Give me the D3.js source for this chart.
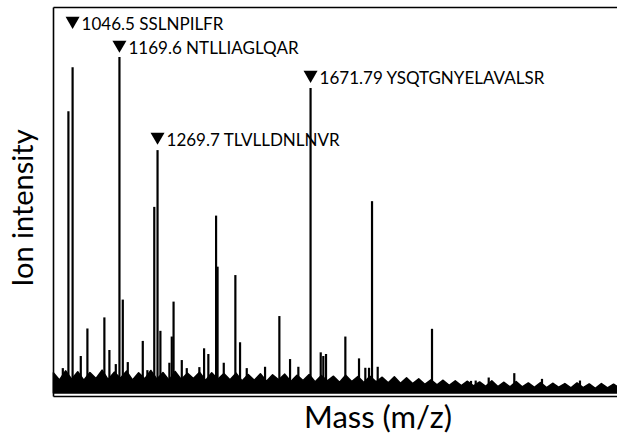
<!DOCTYPE html>
<html>
<head>
<meta charset="utf-8">
<script src="https://cdn.jsdelivr.net/npm/d3@7"></script>
<style>
  body { margin: 0; background: #fff; }
  text { font-family: Lato, "Open Sans", sans-serif; fill: #000; }
</style>
</head>
<body>
<svg id="chart"></svg>
<script>
// peak positions (m/z) and relative intensities (% of tallest peak)
var peakMz = [1020.8, 1035.5, 1046.5, 1068.0, 1085.4, 1130.0, 1143.2, 1160.0, 1169.6, 1178.4,
              1191.5, 1230.9, 1243.0, 1261.1, 1269.7, 1277.2, 1300.8, 1307.1, 1311.8, 1333.4,
              1346.5, 1379.6, 1392.0, 1403.2, 1423.5, 1427.4, 1443.7, 1474.2, 1486.5, 1504.1,
              1552.2, 1589.8, 1617.9, 1639.7, 1671.79, 1698.5, 1705.3, 1712.4, 1763.2, 1799.1,
              1815.7, 1825.4, 1833.3, 1848.2, 1990.9, 2093.4, 2105.7, 2139.9, 2207.1, 2279.9,
              2379.7, 2404.1]
var peakInt = [7.4, 83.9, 97.0, 11.0, 19.2, 22.5, 12.8, 8.6, 100, 27.8,
               9.2, 15.5, 6.8, 55.4, 72.3, 18.5, 9.0, 16.8, 27.2, 9.8,
               7.4, 7.7, 13.3, 11.6, 52.8, 37.6, 9.0, 35.1, 15.1, 7.4,
               7.8, 22.9, 10.1, 7.8, 90.8, 12.1, 11.0, 11.6, 16.8, 10.3,
               7.5, 7.5, 57.1, 7.8, 19.1, 3.6, 3.7, 4.6, 5.9, 4.2,
               3.7, 2.7]

// baseline noise level, one value every 16 m/z from 996
var noiseStart = 996, noiseStep = 16
var noise = [6.0, 3.9, 6.6, 4.1, 6.3, 3.8, 6.1, 4.3, 6.8, 4.0,
             6.2, 4.4, 6.5, 3.9, 6.0, 4.2, 6.7, 4.1, 6.1, 3.8,
             6.4, 4.0, 5.9, 4.3, 6.2, 3.7, 6.0, 4.1, 5.8, 3.9,
             5.9, 3.6, 5.5, 3.8, 5.7, 3.5, 5.4, 3.9, 5.6, 3.4,
             5.3, 3.7, 5.5, 3.3, 5.2, 3.6, 5.0, 3.2, 5.3, 3.4,
             4.9, 3.1, 5.0, 3.3, 4.7, 3.0, 4.8, 2.9, 4.5, 2.8,
             4.2, 2.6, 3.9, 2.4, 3.8, 2.3, 3.6, 2.2, 3.5, 2.1,
             3.3, 2.0, 3.6, 1.9, 3.2, 1.8, 3.4, 1.8, 3.0, 1.7,
             3.1, 1.6, 2.9, 1.7, 2.8, 1.5, 3.0, 1.6, 2.7, 1.4,
             2.8, 1.5, 2.6, 1.4]

// annotated peptides
var labelMz = [1046.5, 1169.6, 1269.7, 1671.79]
var labelText = ["1046.5 SSLNPILFR", "1169.6 NTLLIAGLQAR", "1269.7 TLVLLDNLNVR", "1671.79 YSQTGNYELAVALSR"]
var labelLevel = [108.4, 101.3, 73.9, 92.3]

var dimensions = {
    width: 617,
    height: 436,
    margin: { top: 7, bottom: 40, right: 0, left: 53 }
}

var svg = d3.select("#chart")
    .attr("width", dimensions.width)
    .attr("height", dimensions.height)

var xScale = d3.scaleLinear()
    .domain([995, 2477])
    .range([dimensions.margin.left, dimensions.width - dimensions.margin.right])

var yScale = d3.scaleLinear()
    .domain([-0.9, 114.9])
    .range([dimensions.height - dimensions.margin.bottom, dimensions.margin.top])

// noise band
var noiseData = noise.map((v, i) => [noiseStart + i * noiseStep, v])
var area = d3.area()
    .x(d => xScale(d[0]))
    .y0(yScale(0))
    .y1(d => yScale(d[1]))

svg.append("path")
    .datum(noiseData)
    .attr("d", area)
    .attr("fill", "#000")
    .attr("stroke", "#000")
    .attr("stroke-width", 1.5)
    .attr("stroke-linejoin", "round")

// peaks
var peaks = peakMz.map((m, i) => ({ mz: m, v: peakInt[i] }))
svg.selectAll("line.peak")
    .data(peaks)
    .enter()
    .append("line")
    .attr("class", "peak")
    .attr("x1", d => xScale(d.mz))
    .attr("x2", d => xScale(d.mz))
    .attr("y1", yScale(0))
    .attr("y2", d => yScale(d.v))
    .attr("stroke", "#000")
    .attr("stroke-width", 2.2)

// frame
var xAxisgen = d3.axisBottom(xScale).ticks(0).tickSizeOuter(0)
var xTopgen = d3.axisTop(xScale).ticks(0).tickSizeOuter(0)
var yAxisgen = d3.axisLeft(yScale).ticks(0).tickSizeOuter(0)

svg.append("g")
    .attr("transform", `translate(0,${dimensions.height - dimensions.margin.bottom})`)
    .call(xAxisgen)
svg.append("g")
    .attr("transform", `translate(0,${dimensions.margin.top})`)
    .call(xTopgen)
svg.append("g")
    .attr("transform", `translate(${dimensions.margin.left},0)`)
    .call(yAxisgen)
svg.selectAll(".domain").attr("stroke", "#000").attr("stroke-width", 1.6)

// annotations
var labels = labelMz.map((m, i) => ({ mz: m, text: labelText[i], level: labelLevel[i] }))
var tri = d3.symbol().type(d3.symbolTriangle).size(85)
var lab = svg.selectAll("g.lab")
    .data(labels)
    .enter()
    .append("g")
    .attr("class", "lab")
    .attr("transform", d => `translate(${xScale(d.mz)},${yScale(d.level)})`)
lab.append("path")
    .attr("d", tri)
    .attr("transform", "translate(0,-8) rotate(180)")
    .attr("fill", "#000")
lab.append("text")
    .attr("x", 9)
    .attr("y", 1)
    .style("font-size", "17px")
    .text(d => d.text)

// axis titles
svg.append("text")
    .attr("x", 378)
    .attr("y", 428)
    .attr("text-anchor", "middle")
    .style("font-size", "31px")
    .text("Mass (m/z)")

svg.append("text")
    .attr("transform", "translate(33,208) rotate(-90)")
    .attr("text-anchor", "middle")
    .style("font-size", "29px")
    .text("Ion intensity")
</script>
</body>
</html>
